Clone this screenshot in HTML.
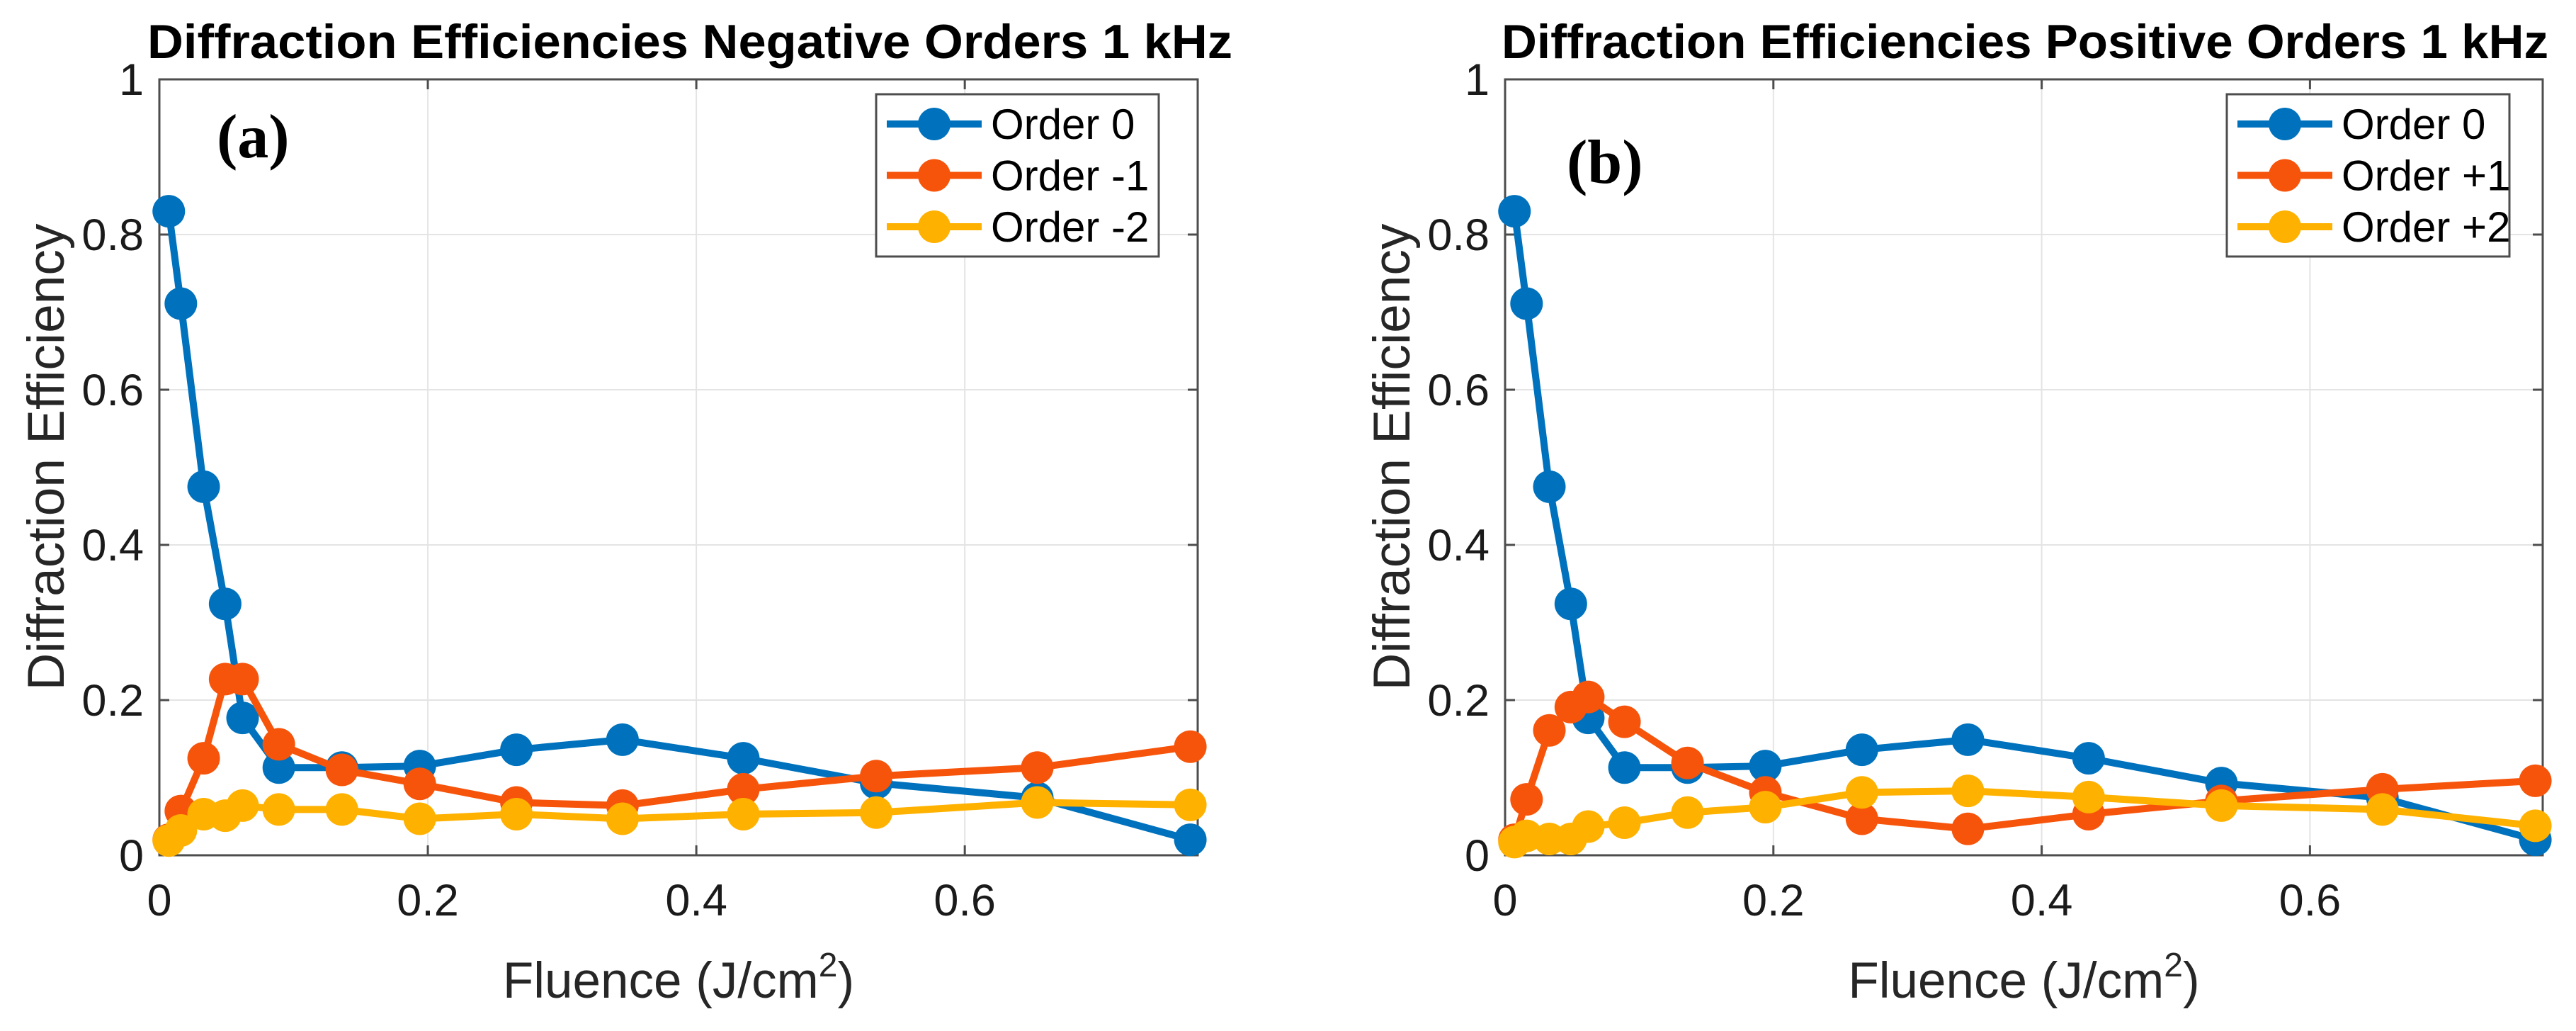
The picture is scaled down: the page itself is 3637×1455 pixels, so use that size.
<!DOCTYPE html>
<html><head><meta charset="utf-8"><style>
html,body{margin:0;padding:0;background:#fff;}
svg{display:block;font-family:"Liberation Sans",sans-serif;}
</style></head><body>
<svg id="fig" width="3637" height="1455" viewBox="0 0 3637 1455" xmlns="http://www.w3.org/2000/svg"></svg>
<script>
const fluence=[0.007,0.016,0.033,0.049,0.062,0.089,0.136,0.194,0.266,0.345,0.435,0.534,0.654,0.768];
const order0=[0.830,0.711,0.475,0.324,0.177,0.113,0.113,0.115,0.136,0.149,0.125,0.093,0.074,0.020];
const orderNeg1=[0.02,0.057,0.125,0.227,0.227,0.143,0.110,0.092,0.068,0.064,0.085,0.102,0.113,0.140];
const orderNeg2=[0.019,0.032,0.053,0.051,0.064,0.059,0.059,0.047,0.053,0.047,0.053,0.055,0.068,0.065];
const orderPos1=[0.02,0.072,0.161,0.191,0.204,0.172,0.119,0.081,0.047,0.034,0.053,0.070,0.085,0.096];
const orderPos2=[0.017,0.025,0.021,0.021,0.037,0.042,0.055,0.062,0.081,0.083,0.075,0.064,0.059,0.038];
const xTicks=[0,0.2,0.4,0.6];
const yTicks=[0,0.2,0.4,0.6,0.8,1];
const xTickLabels=["0","0.2","0.4","0.6"];
const yTickLabels=["0","0.2","0.4","0.6","0.8","1"];
const NS="http://www.w3.org/2000/svg";
const svg=document.getElementById('fig');
const colors=["#0072BD","#F7540B","#FFB100"];
function mk(tag,attrs,parent){const e=document.createElementNS(NS,tag);for(const k in attrs)e.setAttribute(k,attrs[k]);(parent||svg).appendChild(e);return e;}
function panel(p){
  const g=mk('g',{});
  
  
  const L=p.left,R=p.right,T=112,B=1207,xmax=0.7735;
  const sx=v=>L+v/xmax*(R-L), sy=v=>B-v*(B-T);
  xTicks.forEach((t,i)=>{
    if(t>0){const l=mk('line',{x1:sx(t),x2:sx(t),y1:T,y2:B,stroke:'#e4e4e4','stroke-width':2},g);
    }
    mk('line',{x1:sx(t),x2:sx(t),y1:B,y2:B-14,stroke:'#4d4d4d','stroke-width':3},g);
    mk('line',{x1:sx(t),x2:sx(t),y1:T,y2:T+14,stroke:'#4d4d4d','stroke-width':3},g);
    const tx=mk('text',{x:sx(t),y:1292,'font-size':63,'text-anchor':'middle',fill:'#1a1a1a'},g);
    tx.textContent=xTickLabels[i];
    
  });
  yTicks.forEach((t,i)=>{
    if(t>0&&t<1){const l=mk('line',{x1:L,x2:R,y1:sy(t),y2:sy(t),stroke:'#e4e4e4','stroke-width':2},g);
    }
    mk('line',{x1:L,x2:L+14,y1:sy(t),y2:sy(t),stroke:'#4d4d4d','stroke-width':3},g);
    mk('line',{x1:R,x2:R-14,y1:sy(t),y2:sy(t),stroke:'#4d4d4d','stroke-width':3},g);
    const tx=mk('text',{x:L-22,y:sy(t)+22,'font-size':63,'text-anchor':'end',fill:'#1a1a1a'},g);
    tx.textContent=yTickLabels[i];
    
  });
  const box=mk('rect',{x:L,y:T,width:R-L,height:B-T,fill:'none',stroke:'#4d4d4d','stroke-width':3},g);
  
  p.series.forEach((s,si)=>{
    const sg=mk('g',{},g);
    
    const pts=fluence.map((x,i)=>sx(x)+','+sy(s.vals[i])).join(' ');
    const pl=mk('polyline',{points:pts,fill:'none',stroke:colors[si],'stroke-width':10,'stroke-linejoin':'round'},sg);
    
    fluence.forEach((x,i)=>{
      const c=mk('circle',{cx:sx(x),cy:sy(s.vals[i]),r:23,fill:colors[si]},sg);
      
    });
  });
  const lg=mk('g',{},g);
  
  mk('rect',{x:p.legX,y:133,width:399,height:229,fill:'#fff',stroke:'#4d4d4d','stroke-width':3},lg);
  p.series.forEach((s,si)=>{
    const y=175+si*72.5;
    const e=mk('g',{},lg);
    
    mk('line',{x1:p.legX+15,x2:p.legX+149,y1:y,y2:y,stroke:colors[si],'stroke-width':10},e);
    mk('circle',{cx:p.legX+82,cy:y,r:23,fill:colors[si]},e);
    const t=mk('text',{x:p.legX+162,y:y+21,'font-size':60,fill:'#000'},e);
    t.textContent=s.label;
  });
  const ti=mk('text',{x:p.titleX,y:82,'font-size':68,'font-weight':'bold',textLength:p.titleW,lengthAdjust:'spacingAndGlyphs',fill:'#000'},g);
  ti.textContent=p.title;
  const xt=mk('text',{x:(L+R)/2,y:1408,'font-size':71,'text-anchor':'middle',fill:'#262626'},g);
  xt.innerHTML='Fluence (J/cm<tspan dy="-30" font-size="48">2</tspan><tspan dy="30">)</tspan>';
  
  const yt=mk('text',{x:0,y:0,'font-size':73,'text-anchor':'middle',fill:'#262626',transform:`translate(${p.yTitleX},645) rotate(-90)`},g);
  yt.textContent='Diffraction Efficiency';
  
  const pl=mk('text',{x:p.panelX,y:p.panelY,'font-size':88,'font-weight':'bold','font-family':'Liberation Serif, serif',fill:'#000'},g);
  pl.textContent=p.panelLabel;
}
panel({name:'panel-a',left:225,right:1691,legX:1237,titleX:208,titleW:1532,title:'Diffraction Efficiencies Negative Orders 1 kHz',yTitleX:90,panelLabel:'(a)',panelX:306,panelY:222,
 series:[{key:'order-0',label:'Order 0',vals:order0},{key:'order-minus-1',label:'Order -1',vals:orderNeg1},{key:'order-minus-2',label:'Order -2',vals:orderNeg2}]});
panel({name:'panel-b',left:2125,right:3590,legX:3144,titleX:2120,titleW:1478,title:'Diffraction Efficiencies Positive Orders 1 kHz',yTitleX:1990,panelLabel:'(b)',panelX:2212,panelY:258,
 series:[{key:'order-0',label:'Order 0',vals:order0},{key:'order-plus-1',label:'Order +1',vals:orderPos1},{key:'order-plus-2',label:'Order +2',vals:orderPos2}]});
</script>
</body></html>
